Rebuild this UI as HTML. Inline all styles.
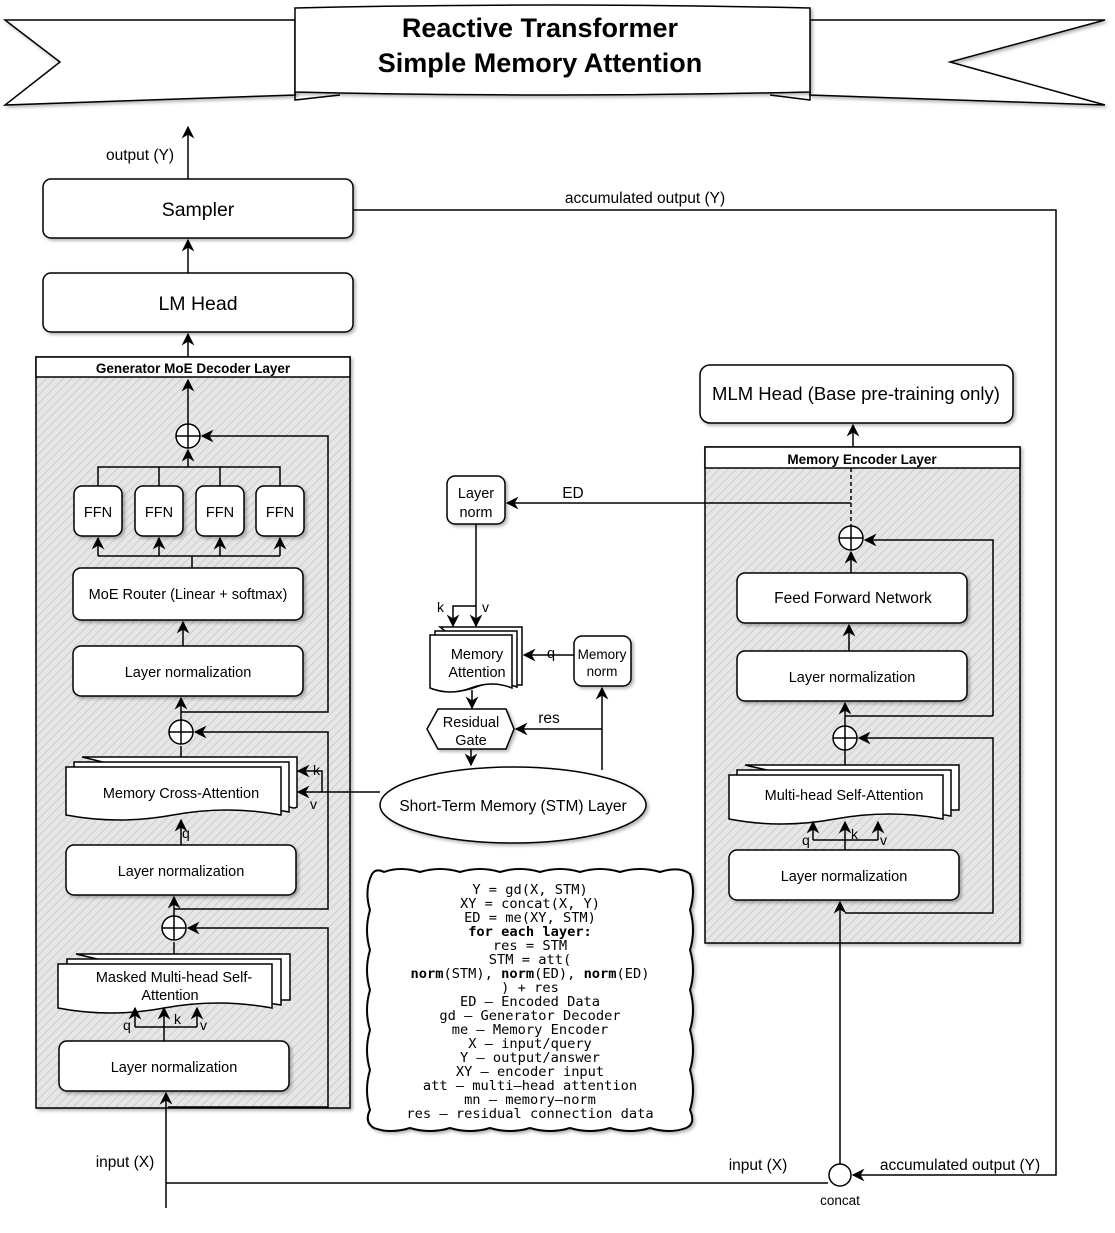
<!DOCTYPE html>
<html><head><meta charset="utf-8"><style>
html,body{margin:0;padding:0;background:#fff;}
svg text{font-family:"Liberation Sans",Arial,sans-serif;fill:#000;}
.m{font-family:"DejaVu Sans Mono","Liberation Mono",monospace !important;font-size:13.7px;}
</style></head><body>
<svg width="1115" height="1228" viewBox="0 0 1115 1228" xmlns="http://www.w3.org/2000/svg">
<defs>
<pattern id="h" width="6" height="6" patternUnits="userSpaceOnUse" patternTransform="rotate(45)">
<rect width="6" height="6" fill="#e6e6e6"/><line x1="0" y1="0" x2="0" y2="6" stroke="#c4c4c4" stroke-width="1.5"/>
</pattern>
<marker id="a" viewBox="0 0 10 10" refX="9" refY="5" markerWidth="8.5" markerHeight="8.5" orient="auto-start-reverse">
<path d="M0,0 L10,5 L0,10 L3,5 z" fill="#000"/></marker>
<filter id="s"><feDropShadow dx="2" dy="2" stdDeviation="1.5" flood-opacity="0.3"/></filter>
</defs>
<g stroke="#000" stroke-width="1.5" fill="none">
<path d="M5,20 L295,20 L295,95 L5,105 L60,62 Z" fill="#fff" filter="url(#s)"/>
<path d="M1105,20 L810,20 L810,95 L1105,105 L950,62 Z" fill="#fff" filter="url(#s)"/>
<path d="M295,8 Q550,2 810,8 L810,92 Q550,98 295,92 Z" fill="#fff" filter="url(#s)"/>
<path d="M295,92 L295,100 L340,95 M810,92 L810,100 L770,95"/>
</g>
<text x="540" y="37" font-size="27" font-weight="bold" text-anchor="middle">Reactive Transformer</text>
<text x="540" y="72" font-size="27" font-weight="bold" text-anchor="middle">Simple Memory Attention</text>

<g stroke="#000" stroke-width="1.5" fill="none">
<rect x="36" y="357" width="314" height="751" fill="url(#h)" filter="url(#s)"/>
<rect x="36" y="357" width="314" height="20" fill="#fff"/>
<rect x="705" y="447" width="315" height="496" fill="url(#h)" filter="url(#s)"/>
<rect x="705" y="447" width="315" height="21" fill="#fff"/>
<g fill="#fff" filter="url(#s)">
<rect x="43" y="179" width="310" height="59" rx="8"/>
<rect x="43" y="273" width="310" height="59" rx="8"/>
<rect x="74" y="486" width="48" height="50" rx="8"/>
<rect x="135" y="486" width="48" height="50" rx="8"/>
<rect x="196" y="486" width="48" height="50" rx="8"/>
<rect x="256" y="486" width="48" height="50" rx="8"/>
<rect x="73" y="568" width="230" height="52" rx="8"/>
<rect x="73" y="646" width="230" height="50" rx="8"/>
<rect x="66" y="845" width="230" height="50" rx="8"/>
<rect x="59" y="1041" width="230" height="50" rx="8"/>
<rect x="700" y="365" width="313" height="58" rx="10"/>
<rect x="737" y="573" width="230" height="50" rx="8"/>
<rect x="737" y="651" width="230" height="50" rx="8"/>
<rect x="729" y="850" width="230" height="50" rx="8"/>
<rect x="447" y="476" width="58" height="48" rx="8"/>
<rect x="574" y="636" width="57" height="50" rx="8"/>
<path d="M438,709 H506 L514,729 L506,749 H438 L427,729 Z"/>
<ellipse cx="513" cy="805" rx="133" ry="38"/>
<path d="M372,874 Q376,868 384,872 Q400,866 420,872 Q440,866 460,872 Q480,866 500,872 Q520,866 540,872 Q560,866 580,872 Q600,866 620,872 Q640,866 660,872 Q680,866 690,874 Q696,890 690,910 Q696,930 690,950 Q696,970 690,990 Q696,1010 690,1030 Q696,1050 690,1070 Q696,1090 690,1110 Q696,1124 686,1128 Q670,1134 650,1128 Q630,1134 610,1128 Q590,1134 570,1128 Q550,1134 530,1128 Q510,1134 490,1128 Q470,1134 450,1128 Q430,1134 410,1128 Q390,1134 374,1128 Q364,1122 370,1110 Q364,1090 370,1070 Q364,1050 370,1030 Q364,1010 370,990 Q364,970 370,950 Q364,930 370,910 Q364,890 372,874 Z" stroke-width="2"/>
</g>
<g fill="#fff">
<path d="M82,757 h215 v50 q-3,2 -7,0 z" />
<path d="M74,762 h215 v50 q-54,-10 -108,0 t-107,0 z"/>
<path d="M66,767 h215 v48 q-54,-10 -108,0 t-107,0 z"/>
<path d="M76,954 h214 v46 h-20 z"/>
<path d="M67,959 h214 v46 q-54,-10 -108,0 t-106,0 z"/>
<path d="M58,964 h214 v44 q-54,-10 -108,0 t-106,0 z"/>
<path d="M745,765 h214 v45 h-20 z"/>
<path d="M737,770 h214 v46 q-54,-10 -108,0 t-106,0 z"/>
<path d="M729,775 h214 v44 q-54,-10 -108,0 t-106,0 z"/>
<path d="M440,627 h82 v58 h-10 z"/>
<path d="M435,631 h82 v56 q-20,-8 -41,0 t-41,0 z"/>
<path d="M430,635 h82 v53 q-20,-8 -41,0 t-41,0 z"/>
</g>
<g fill="#fff">
<circle cx="188" cy="436" r="12"/><path d="M176,436 h24 M188,424 v24"/>
<circle cx="181" cy="732" r="12"/><path d="M169,732 h24 M181,720 v24"/>
<circle cx="174" cy="928" r="12"/><path d="M162,928 h24 M174,916 v24"/>
<circle cx="851" cy="538" r="12"/><path d="M839,538 h24 M851,526 v24"/>
<circle cx="845" cy="738" r="12"/><path d="M833,738 h24 M845,726 v24"/>
<circle cx="840" cy="1175" r="11"/>
</g>
<path d="M188,179 V127" marker-end="url(#a)"/>
<path d="M188,273 V240" marker-end="url(#a)"/>
<path d="M188,357 V334" marker-end="url(#a)"/>
<path d="M188,424 V380" marker-end="url(#a)"/>
<path d="M353,210 H1056 V1175 H853" marker-end="url(#a)"/>
<path d="M98,486 V467 H280 V486 M159,467 V486 M220,467 V486 M188,467 V450" marker-end="url(#a)"/>
<path d="M192,568 V556 H98 M192,556 H280"/>
<path d="M98,556 V538" marker-end="url(#a)"/><path d="M159,556 V538" marker-end="url(#a)"/><path d="M220,556 V538" marker-end="url(#a)"/><path d="M280,556 V538" marker-end="url(#a)"/>
<path d="M183,646 V622" marker-end="url(#a)"/>
<path d="M181,720 V698" marker-end="url(#a)"/>
<path d="M181,712 H328 V436 H202" marker-end="url(#a)"/>
<path d="M181,757 V746"/>
<path d="M181,845 V820" marker-end="url(#a)"/>
<path d="M174,916 V897" marker-end="url(#a)"/>
<path d="M174,909 H328 V732 H195" marker-end="url(#a)"/>
<path d="M174,954 V942"/>
<path d="M168,1107 H328 V928 H188" marker-end="url(#a)"/>
<path d="M166,1208 V1093" marker-end="url(#a)"/>
<path d="M164,1041 V1008" marker-end="url(#a)"/>
<path d="M135,1027 H197"/>
<path d="M135,1027 V1008" marker-end="url(#a)"/><path d="M197,1027 V1008" marker-end="url(#a)"/>
<path d="M380,792 H298" marker-end="url(#a)"/>
<path d="M322,792 V771 H298" marker-end="url(#a)"/>
<path d="M166,1183 H828"/>
<path d="M853,447 V425" marker-end="url(#a)"/>
<path d="M851,468 V526" stroke-dasharray="4,3"/>
<path d="M851,503 H507" marker-end="url(#a)"/>
<path d="M993,716 V540 H865" marker-end="url(#a)"/>
<path d="M851,573 V552" marker-end="url(#a)"/>
<path d="M849,651 V625" marker-end="url(#a)"/>
<path d="M845,726 V703" marker-end="url(#a)"/>
<path d="M845,716 H993"/>
<path d="M845,913 H993 V738 H859" marker-end="url(#a)"/>
<path d="M845,765 V750"/>
<path d="M845,850 V822" marker-end="url(#a)"/>
<path d="M813,840 H878"/>
<path d="M813,840 V822" marker-end="url(#a)"/><path d="M878,840 V822" marker-end="url(#a)"/>
<path d="M840,1164 V902" marker-end="url(#a)"/>
<path d="M476,524 V626" marker-end="url(#a)"/>
<path d="M476,606 H453 V626" marker-end="url(#a)"/>
<path d="M574,655 H524" marker-end="url(#a)"/>
<path d="M472,690 V708" marker-end="url(#a)"/>
<path d="M602,729 H516" marker-end="url(#a)"/>
<path d="M602,770 V688" marker-end="url(#a)"/>
<path d="M471,749 V765" marker-end="url(#a)"/>
</g>

<g font-size="15.5">
<text x="140" y="160" text-anchor="middle">output (Y)</text>
<text x="645" y="203" text-anchor="middle">accumulated output (Y)</text>
<text x="198" y="216" text-anchor="middle" font-size="19.5">Sampler</text>
<text x="198" y="310" text-anchor="middle" font-size="19.5">LM Head</text>
<text x="193" y="373" text-anchor="middle" font-size="13.5" font-weight="bold">Generator MoE Decoder Layer</text>
<text x="98" y="517" text-anchor="middle" font-size="14.5">FFN</text>
<text x="159" y="517" text-anchor="middle" font-size="14.5">FFN</text>
<text x="220" y="517" text-anchor="middle" font-size="14.5">FFN</text>
<text x="280" y="517" text-anchor="middle" font-size="14.5">FFN</text>
<text x="188" y="599" text-anchor="middle" font-size="14.5">MoE Router (Linear + softmax)</text>
<text x="188" y="677" text-anchor="middle" font-size="14.5">Layer normalization</text>
<text x="181" y="798" text-anchor="middle" font-size="14.5">Memory Cross-Attention</text>
<text x="313" y="775" font-size="14">k</text><text x="310" y="809" font-size="14">v</text>
<text x="182" y="838" font-size="14">q</text>
<text x="181" y="876" text-anchor="middle" font-size="14.5">Layer normalization</text>
<text x="174" y="982" text-anchor="middle" font-size="14.5">Masked Multi-head Self-</text>
<text x="170" y="1000" text-anchor="middle" font-size="14.5">Attention</text>
<text x="123" y="1030" font-size="14">q</text><text x="174" y="1024" font-size="14">k</text><text x="200" y="1030" font-size="14">v</text>
<text x="174" y="1072" text-anchor="middle" font-size="14.5">Layer normalization</text>
<text x="125" y="1167" text-anchor="middle">input (X)</text>
<text x="758" y="1170" text-anchor="middle">input (X)</text>
<text x="960" y="1170" text-anchor="middle">accumulated output (Y)</text>
<text x="840" y="1205" text-anchor="middle" font-size="13.5">concat</text>
<text x="856" y="400" text-anchor="middle" font-size="18.5">MLM Head (Base pre-training only)</text>
<text x="862" y="464" text-anchor="middle" font-size="13.5" font-weight="bold">Memory Encoder Layer</text>
<text x="853" y="603" text-anchor="middle" font-size="15.5">Feed Forward Network</text>
<text x="852" y="682" text-anchor="middle" font-size="14.5">Layer normalization</text>
<text x="844" y="800" text-anchor="middle" font-size="14.5">Multi-head Self-Attention</text>
<text x="802" y="845" font-size="14">q</text><text x="851" y="839" font-size="14">k</text><text x="880" y="845" font-size="14">v</text>
<text x="844" y="881" text-anchor="middle" font-size="14.5">Layer normalization</text>
<text x="573" y="498" text-anchor="middle">ED</text>
<text x="476" y="498" text-anchor="middle" font-size="14.5">Layer</text>
<text x="476" y="517" text-anchor="middle" font-size="14.5">norm</text>
<text x="437" y="612" font-size="14">k</text><text x="482" y="612" font-size="14">v</text>
<text x="477" y="659" text-anchor="middle" font-size="14.5">Memory</text>
<text x="477" y="677" text-anchor="middle" font-size="14.5">Attention</text>
<text x="551" y="658" text-anchor="middle" font-size="14.5">q</text>
<text x="602" y="659" text-anchor="middle" font-size="13.5">Memory</text>
<text x="602" y="676" text-anchor="middle" font-size="13.5">norm</text>
<text x="549" y="723" text-anchor="middle">res</text>
<text x="471" y="727" text-anchor="middle" font-size="14.5">Residual</text>
<text x="471" y="745" text-anchor="middle" font-size="14.5">Gate</text>
<text x="513" y="811" text-anchor="middle" font-size="15.5">Short-Term Memory (STM) Layer</text>
</g>
<g class="m" text-anchor="middle">
<text class="m" x="530" y="894">Y = gd(X, STM)</text>
<text class="m" x="530" y="908">XY = concat(X, Y)</text>
<text class="m" x="530" y="922">ED = me(XY, STM)</text>
<text class="m" x="530" y="936" font-weight="bold">for each layer:</text>
<text class="m" x="530" y="950">res = STM</text>
<text class="m" x="530" y="964">STM = att(</text>
<text class="m" x="530" y="978"><tspan font-weight="bold">norm</tspan>(STM), <tspan font-weight="bold">norm</tspan>(ED), <tspan font-weight="bold">norm</tspan>(ED)</text>
<text class="m" x="530" y="992">) + res</text>
<text class="m" x="530" y="1006">ED – Encoded Data</text>
<text class="m" x="530" y="1020">gd – Generator Decoder</text>
<text class="m" x="530" y="1034">me – Memory Encoder</text>
<text class="m" x="530" y="1048">X – input/query</text>
<text class="m" x="530" y="1062">Y – output/answer</text>
<text class="m" x="530" y="1076">XY – encoder input</text>
<text class="m" x="530" y="1090">att – multi–head attention</text>
<text class="m" x="530" y="1104">mn – memory–norm</text>
<text class="m" x="530" y="1118">res – residual connection data</text>
</g>
</svg>
</body></html>
